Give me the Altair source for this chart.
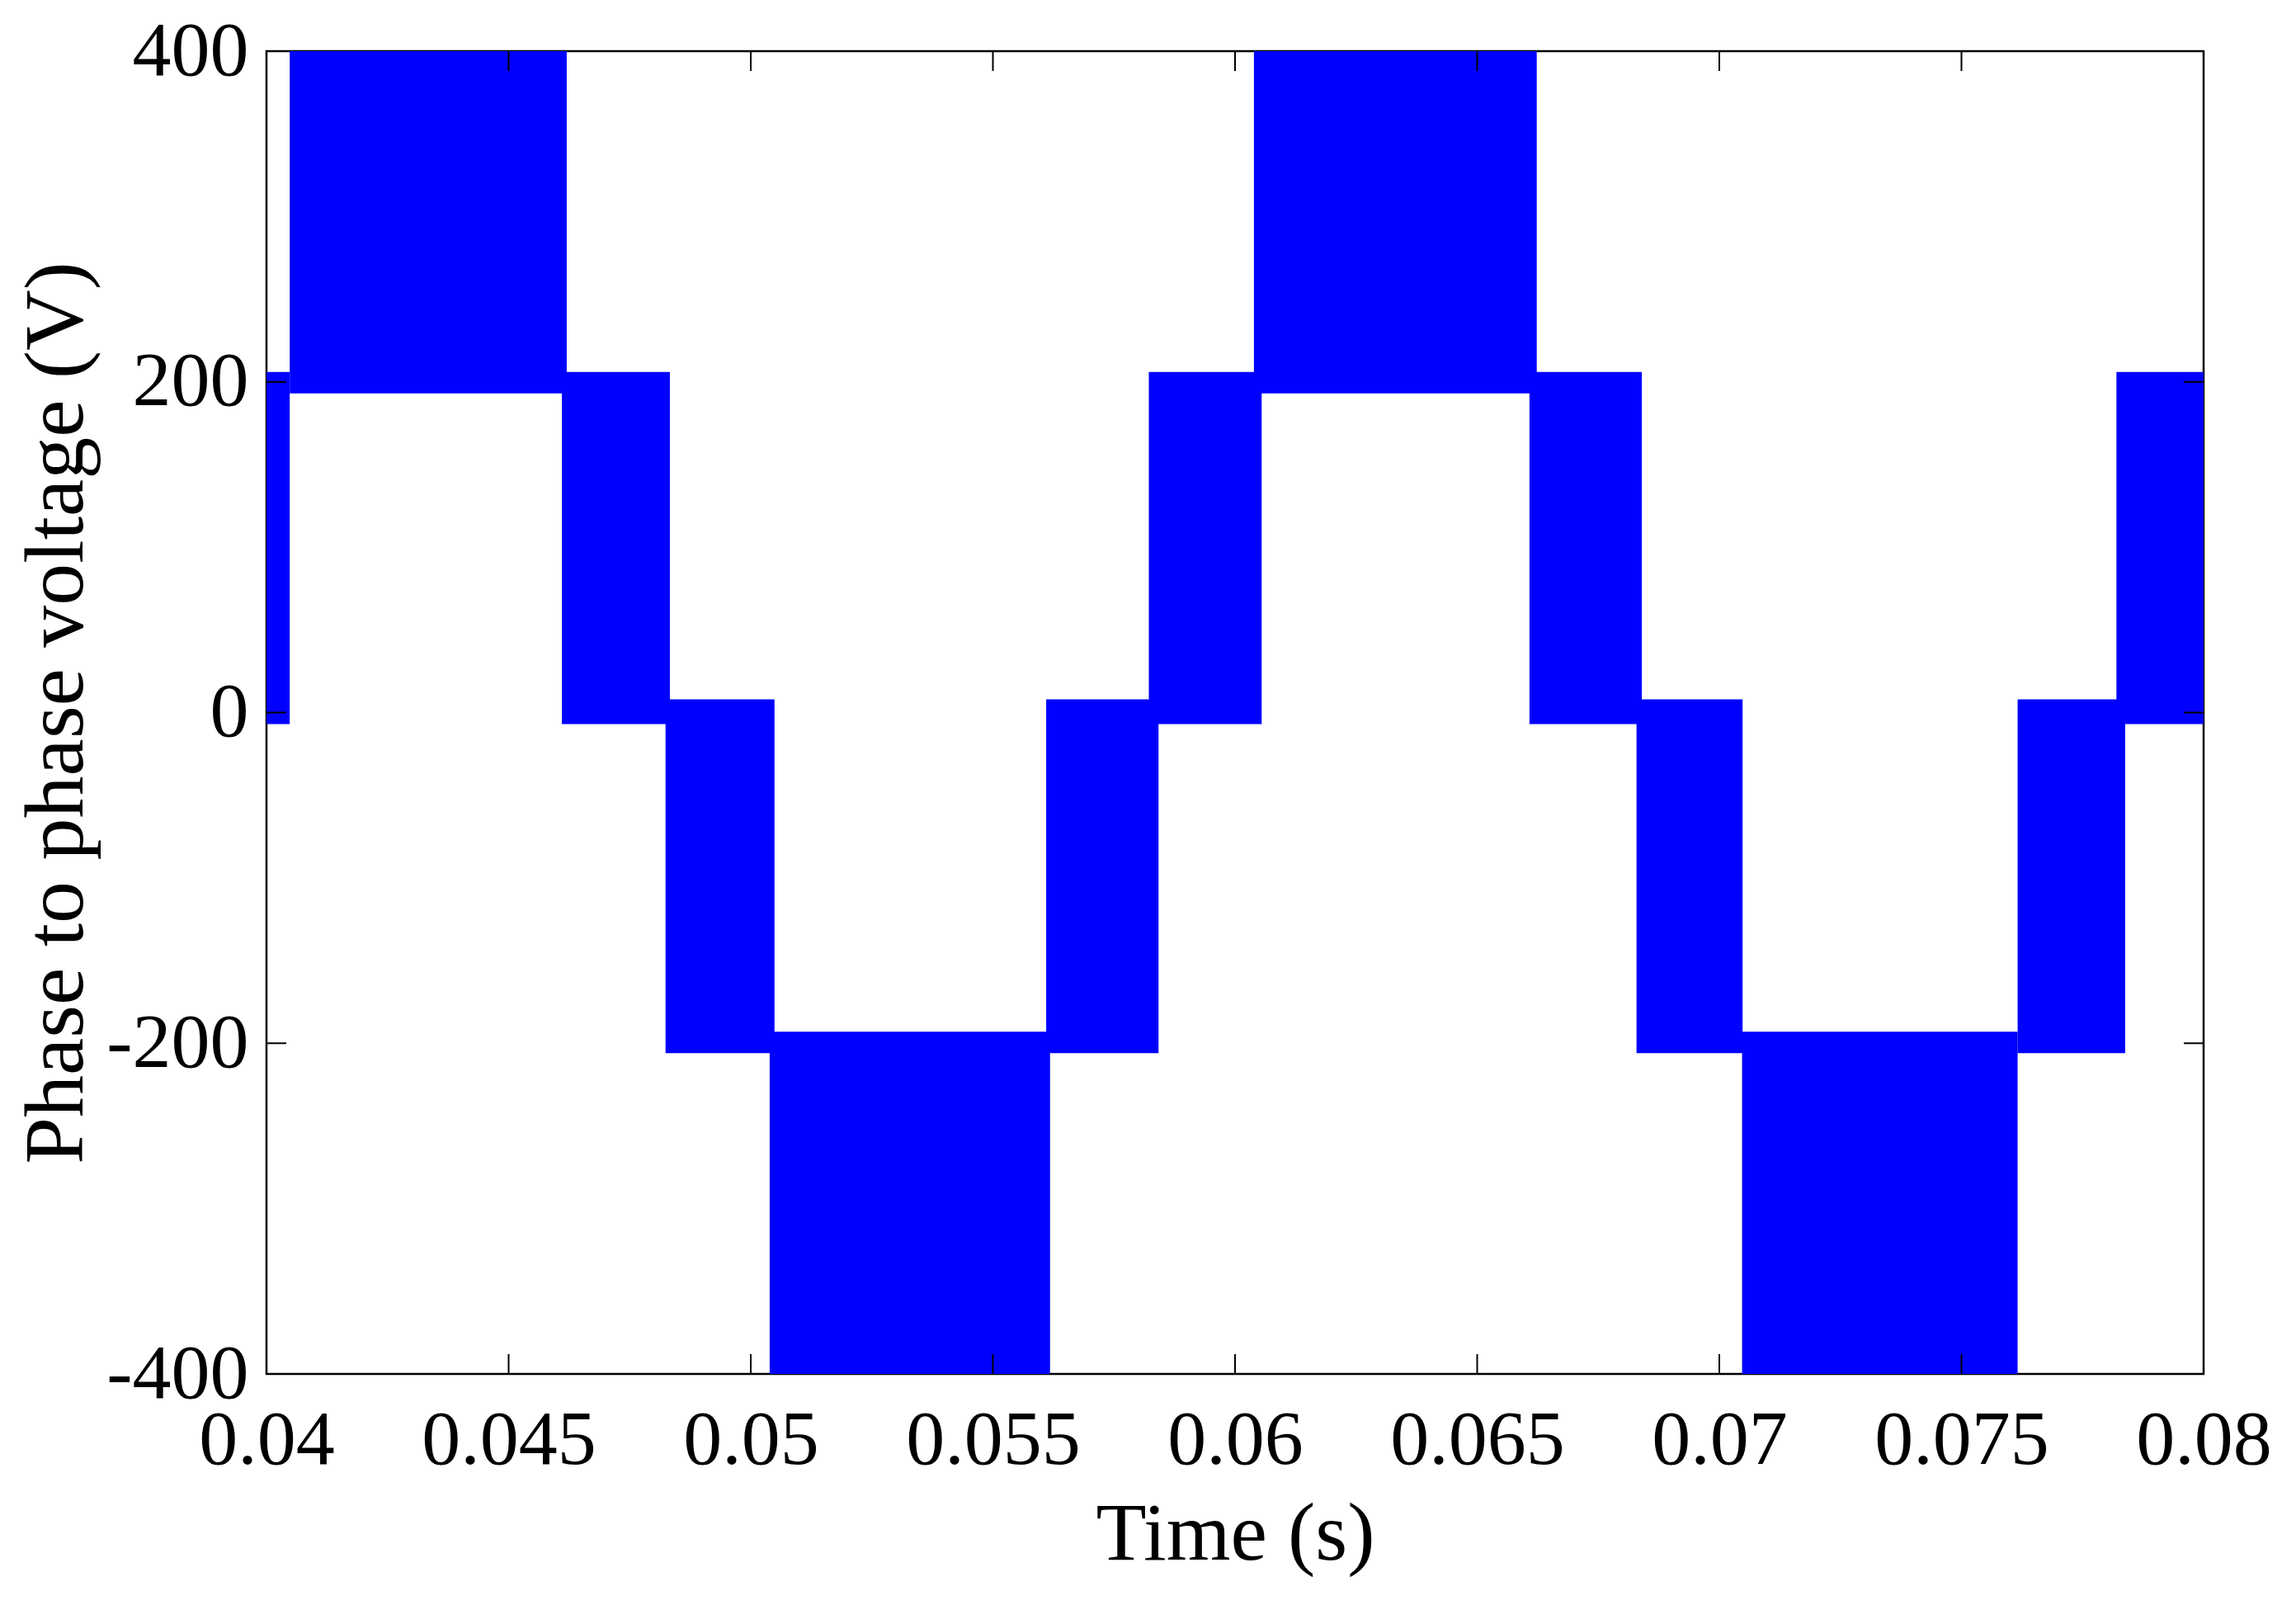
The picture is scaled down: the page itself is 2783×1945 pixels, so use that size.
import altair as alt
import pandas as pd

# Switching-level bands of the phase-to-phase voltage
t_start = [0.04000, 0.04048, 0.04610, 0.04824, 0.05039, 0.05610, 0.05822,
           0.06039, 0.06608, 0.06829, 0.07047, 0.07616, 0.07820]
t_end = [0.04048, 0.04620, 0.04833, 0.05049, 0.05618, 0.05842, 0.06055,
         0.06623, 0.06840, 0.07048, 0.07616, 0.07838, 0.08000]
v_low = [-7, 193, -7, -206, -400, -206, -7, 193, -7, -206, -400, -206, -7]
v_high = [206, 400, 206, 8, -193, 8, 206, 400, 206, 8, -193, 8, 206]

x_ticks = [0.04, 0.045, 0.05, 0.055, 0.06, 0.065, 0.07, 0.075, 0.08]
y_ticks = [-400, -200, 0, 200, 400]

W, H = 2348, 1603
TICK = 24
FONT = "Liberation Serif"

bands_df = pd.DataFrame({"t0": t_start, "t1": t_end, "v0": v_low, "v1": v_high})
xt_df = pd.DataFrame({"t": x_ticks})
yt_df = pd.DataFrame({"v": y_ticks})

xs = alt.Scale(domain=[0.04, 0.08], nice=False, zero=False)
ys = alt.Scale(domain=[-400, 400], nice=False, zero=False)

x_axis = alt.Axis(values=x_ticks, format=".3~f", title="Time (s)",
                  labelFlush=False, labelOverlap=False, labelLimit=0,
                  labelPadding=34, titlePadding=18)
y_axis = alt.Axis(values=y_ticks, labelExpr="datum.value + ''",
                  title="Phase to phase voltage (V)", labelLimit=0,
                  labelOverlap=False, labelPadding=22, titlePadding=8)

bands = alt.Chart(bands_df).mark_rect(color="#0000FF", clip=True).encode(
    x=alt.X("t0:Q", scale=xs, axis=x_axis),
    x2="t1:Q",
    y=alt.Y("v0:Q", scale=ys, axis=y_axis),
    y2="v1:Q",
)

tick_bottom = alt.Chart(xt_df).mark_rule(color="black", strokeWidth=2).encode(
    x=alt.X("t:Q", scale=xs, axis=x_axis), y=alt.value(H), y2=alt.value(H - TICK))
tick_top = alt.Chart(xt_df).mark_rule(color="black", strokeWidth=2).encode(
    x=alt.X("t:Q", scale=xs, axis=x_axis), y=alt.value(0), y2=alt.value(TICK))
tick_left = alt.Chart(yt_df).mark_rule(color="black", strokeWidth=2).encode(
    y=alt.Y("v:Q", scale=ys, axis=y_axis), x=alt.value(0), x2=alt.value(TICK))
tick_right = alt.Chart(yt_df).mark_rule(color="black", strokeWidth=2).encode(
    y=alt.Y("v:Q", scale=ys, axis=y_axis), x=alt.value(W), x2=alt.value(W - TICK))

chart = (
    alt.layer(bands, tick_bottom, tick_top, tick_left, tick_right)
    .properties(width=W, height=H,
                autosize=alt.AutoSizeParams(type="none"),
                padding={"left": 315, "top": 54, "right": 100, "bottom": 260})
    .configure_view(stroke="black", strokeWidth=2.5, fill="white")
    .configure_axis(domain=False, ticks=False, grid=False,
                    labelFont=FONT, labelFontSize=94, labelColor="black",
                    titleFont=FONT, titleFontSize=100, titleColor="black",
                    titleFontWeight="normal")
    .configure_axisY(titleFontSize=102)
)

chart.save("out.html", embed_options={"renderer": "svg", "actions": False})
